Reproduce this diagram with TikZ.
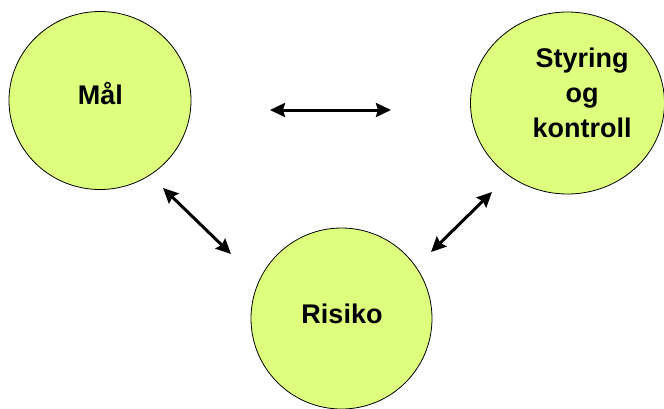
\documentclass[tikz,border=0pt]{standalone}
\usepackage{fontspec}
\setmainfont{Liberation Sans}
\usetikzlibrary{arrows.meta, shapes.geometric}
\definecolor{mylime}{RGB}{221,255,125}

\begin{document}
\begin{tikzpicture}[x=1pt, y=-1pt,
    blob/.style={ellipse, draw=black, line width=0.8pt, fill=mylime, inner sep=0pt},
    lbl/.style={font=\fontsize{27}{35}\selectfont\bfseries, align=center, inner sep=0pt},
    link/.style={{Stealth[length=15pt,width=14pt,inset=2pt]}-{Stealth[length=15pt,width=14pt,inset=2pt]}, line width=3pt}
]
    \useasboundingbox (0,0) rectangle (664,408);

    % Circles
    \node[blob, minimum width=182pt, minimum height=178pt] (mal) at (100,100.5) {};
    \node[blob, minimum width=194pt, minimum height=182pt] (styring) at (567.5,103) {};
    \node[blob, minimum width=181pt, minimum height=181pt] (risiko) at (341.5,318.5) {};

    % Labels
    \node[lbl] (mal_txt) at (100.5,93.5) {Mål};
    \node[lbl] (styring_txt) at (582,92.5) {Styring\\og\\kontroll};
    \node[lbl] (risiko_txt) at (342,314) {Risiko};

    % Free arrow ends
    \coordinate (top_l) at (270,110);
    \coordinate (top_r) at (391,110);
    \coordinate (left_a) at (163,188);
    \coordinate (left_b) at (231,254);
    \coordinate (right_a) at (492,192);
    \coordinate (right_b) at (431,252);

    % Arrows
    \draw[link] (top_l) -- (top_r);
    \draw[link] (left_a) -- (left_b);
    \draw[link] (right_b) -- (right_a);

\end{tikzpicture}
\end{document}
